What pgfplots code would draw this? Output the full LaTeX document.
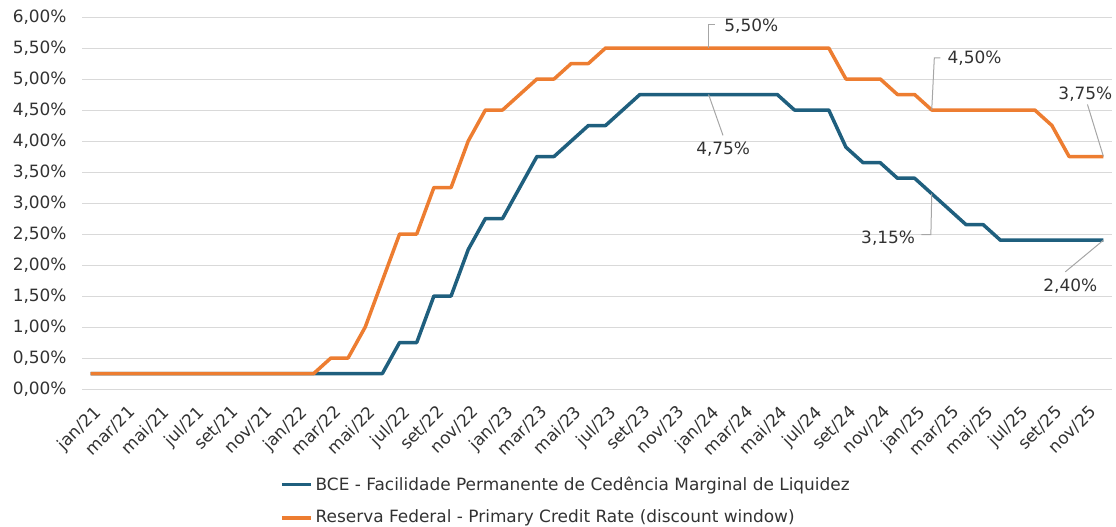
\documentclass[border=0pt]{standalone}
\usepackage{fontspec}
\setmainfont{DejaVu Sans}
\usepackage{pgfplots}
\pgfplotsset{compat=1.18}
\usepackage{pgfplotstable}

\definecolor{bceblue}{RGB}{31,95,126}
\definecolor{fedorange}{RGB}{237,125,49}
\definecolor{gridgray}{RGB}{217,217,217}
\definecolor{pointer}{RGB}{166,166,166}
\definecolor{txt}{RGB}{50,50,50}
\newcommand{\chartfont}{\fontsize{8.5}{10}\selectfont}

% month index (0 = jan/21) and rate in %
\pgfplotstableread{
m r
0 0.25
1 0.25
2 0.25
3 0.25
4 0.25
5 0.25
6 0.25
7 0.25
8 0.25
9 0.25
10 0.25
11 0.25
12 0.25
13 0.25
14 0.25
15 0.25
16 0.25
17 0.25
18 0.75
19 0.75
20 1.50
21 1.50
22 2.25
23 2.75
24 2.75
25 3.25
26 3.75
27 3.75
28 4.00
29 4.25
30 4.25
31 4.50
32 4.75
33 4.75
34 4.75
35 4.75
36 4.75
37 4.75
38 4.75
39 4.75
40 4.75
41 4.50
42 4.50
43 4.50
44 3.90
45 3.65
46 3.65
47 3.40
48 3.40
49 3.15
50 2.90
51 2.65
52 2.65
53 2.40
54 2.40
55 2.40
56 2.40
57 2.40
58 2.40
59 2.40
}\bce

\pgfplotstableread{
m r
0 0.25
1 0.25
2 0.25
3 0.25
4 0.25
5 0.25
6 0.25
7 0.25
8 0.25
9 0.25
10 0.25
11 0.25
12 0.25
13 0.25
14 0.50
15 0.50
16 1.00
17 1.75
18 2.50
19 2.50
20 3.25
21 3.25
22 4.00
23 4.50
24 4.50
25 4.75
26 5.00
27 5.00
28 5.25
29 5.25
30 5.50
31 5.50
32 5.50
33 5.50
34 5.50
35 5.50
36 5.50
37 5.50
38 5.50
39 5.50
40 5.50
41 5.50
42 5.50
43 5.50
44 5.00
45 5.00
46 5.00
47 4.75
48 4.75
49 4.50
50 4.50
51 4.50
52 4.50
53 4.50
54 4.50
55 4.50
56 4.25
57 3.75
58 3.75
59 3.75
}\fed

\begin{document}
\begin{tikzpicture}
\useasboundingbox (-41bp,-69bp) rectangle (517bp,194.5bp);
\begin{axis}[
  scale only axis,
  width=515bp, height=186bp,
  xmin=-0.5, xmax=59.5,
  ymin=0, ymax=6,
  clip=false,
  axis line style={draw=none},
  major tick length=0pt,
  ymajorgrids,
  grid style={gridgray, line width=0.5bp},
  ytick={0,0.5,...,6},
  yticklabels={{0,00\%},{0,50\%},{1,00\%},{1,50\%},{2,00\%},{2,50\%},{3,00\%},{3,50\%},{4,00\%},{4,50\%},{5,00\%},{5,50\%},{6,00\%}},
  xtick={0,2,...,58},
  xticklabels={jan/21,mar/21,mai/21,jul/21,set/21,nov/21,
    jan/22,mar/22,mai/22,jul/22,set/22,nov/22,
    jan/23,mar/23,mai/23,jul/23,set/23,nov/23,
    jan/24,mar/24,mai/24,jul/24,set/24,nov/24,
    jan/25,mar/25,mai/25,jul/25,set/25,nov/25},
  tick label style={font=\chartfont, text=txt},
  yticklabel style={inner sep=0pt, xshift=-7.5bp},
  xticklabel style={rotate=45, anchor=north east, inner sep=0pt, xshift=-4.5bp, yshift=-6bp},
  legend style={at={(0.192,-0.226)}, anchor=north west, draw=none, fill=none,
    font=\chartfont, text=txt, row sep=5.5bp, inner sep=0pt,
    nodes={inner sep=1.5bp}},
  legend cell align=left,
  legend image code/.code={\draw[#1] (0bp,0bp) -- (14.5bp,0bp);},
]
\addplot[bceblue, line width=1.75bp, line join=round] table[x=m, y=r] {\bce};
\addlegendentry{BCE - Facilidade Permanente de Cedência Marginal de Liquidez}
\addplot[fedorange, line width=1.75bp, line join=round] table[x=m, y=r] {\fed};
\addlegendentry{Reserva Federal - Primary Credit Rate (discount window)}

\begin{scope}[pointer, line width=0.5bp]
\draw (axis cs:36,5.5) -- (axis cs:36,5.88) -- (axis cs:36.4,5.88);
\draw (axis cs:36,4.75) -- (axis cs:36.84,4.09);
\draw (axis cs:49,4.5) -- (axis cs:49.15,5.34) -- (axis cs:49.5,5.34);
\draw (axis cs:59,3.75) -- (axis cs:58.07,4.59);
\draw (axis cs:49,3.15) -- (axis cs:48.95,2.49) -- (axis cs:48.4,2.49);
\draw (axis cs:59,2.4) -- (axis cs:56.78,1.89);
\end{scope}
\begin{scope}[every node/.style={font=\chartfont, text=txt, inner sep=0pt}]
\node[anchor=west] at (axis cs:36.9,5.85) {5,50\%};
\node at (axis cs:36.85,3.86) {4,75\%};
\node[anchor=west] at (axis cs:49.9,5.33) {4,50\%};
\node at (axis cs:57.95,4.76) {3,75\%};
\node[anchor=east] at (axis cs:48.05,2.44) {3,15\%};
\node at (axis cs:57.07,1.66) {2,40\%};
\end{scope}
\end{axis}
\end{tikzpicture}
\end{document}
